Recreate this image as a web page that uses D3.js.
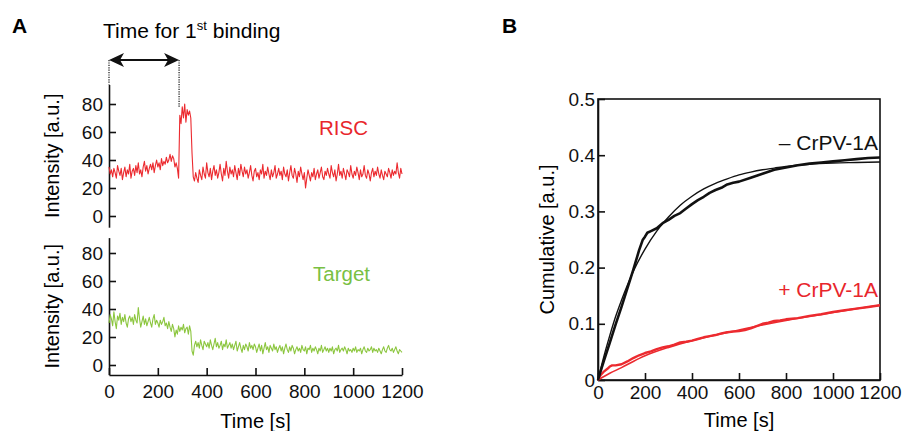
<!DOCTYPE html>
<html><head><meta charset="utf-8">
<script src="https://cdn.jsdelivr.net/npm/d3@7"></script>
<style>
body{margin:0;background:#fff;}
text{font-family:"Liberation Sans",Arial,Helvetica,sans-serif;}
</style></head>
<body><svg id="c" width="902" height="431"></svg>
<script>
// ---------- DATA ----------
const timeA = d3.range(0, 1201, 5);
const risc = [
35,30,33,28,34,31,27,36,32,29,34,26,31,35,28,33,30,37,27,32,
34,29,36,31,38,30,33,28,35,39,32,36,30,34,37,33,38,31,36,40,
35,38,33,41,36,39,37,42,38,40,44,39,43,41,35,38,34,27,72,66,
78,70,80,67,76,72,75,70,45,28,25,31,27,24,33,29,26,35,30,27,
38,31,28,34,26,32,36,29,33,27,31,37,30,25,34,29,39,32,27,35,
30,33,28,36,31,26,34,29,37,32,28,35,30,33,27,31,36,29,25,32,
34,28,31,26,33,30,37,27,32,29,35,30,26,33,28,31,36,27,30,34,
29,32,26,35,30,28,33,25,31,36,29,27,34,30,24,32,28,35,30,26,
31,20,27,33,29,25,31,28,34,26,30,33,27,31,35,28,26,32,29,34,
30,27,36,31,28,33,25,30,37,29,32,27,34,30,26,33,31,28,36,30,
27,32,29,35,31,26,33,28,30,36,29,27,33,30,25,31,34,28,32,29,
35,30,27,33,29,26,32,30,28,34,31,27,33,29,32,30,38,31,27,34,
30];
const target = [
30,36,33,28,38,31,26,35,32,37,29,34,31,36,30,27,33,35,31,34,
29,36,32,30,41,33,27,31,35,29,33,28,31,34,30,27,33,36,29,32,
30,27,32,29,31,34,28,30,26,31,27,24,29,26,20,25,22,28,24,27,
25,29,23,26,27,22,28,24,10,7,14,17,13,16,12,18,14,11,17,15,
13,16,12,18,14,11,15,19,13,16,12,14,17,11,15,13,18,12,14,16,
12,15,11,14,17,10,13,16,12,9,14,11,15,13,10,16,12,14,11,15,
13,9,12,15,10,14,8,12,16,11,13,9,14,12,10,15,11,13,9,12,
14,10,13,8,12,15,11,9,13,10,14,12,8,11,13,10,12,9,14,11,
10,13,8,12,11,14,9,12,10,13,11,8,12,10,14,9,11,13,10,12,
9,12,10,13,8,11,12,10,14,9,11,12,10,13,11,8,12,10,11,9,
12,10,13,9,11,10,12,8,11,13,10,9,12,10,11,13,9,12,10,11,
9,12,10,8,11,13,10,9,12,14,11,10,12,9,11,13,10,8,11,10,
9];
const firstBindingTime = 287;
const yTicksA = [0, 20, 40, 60, 80];
const xTicks = [0, 200, 400, 600, 800, 1000, 1200];
const yTicksB = [0, 0.1, 0.2, 0.3, 0.4, 0.5];
const yTickLabelsB = ["0", "0.1", "0.2", "0.3", "0.4", "0.5"];

const tMinusData = [0,10,25,50,75,100,125,150,175,190,200,210,225,250,275,300,325,350,375,400,425,450,475,500,525,550,575,600,650,700,750,800,850,900,950,1000,1050,1100,1150,1200];
const vMinusData = [0,0.014,0.034,0.066,0.099,0.13,0.163,0.196,0.231,0.249,0.255,0.262,0.265,0.27,0.279,0.285,0.292,0.297,0.305,0.313,0.32,0.326,0.333,0.338,0.342,0.348,0.351,0.353,0.36,0.367,0.374,0.378,0.382,0.385,0.387,0.389,0.391,0.393,0.395,0.396];
const tMinusFit = [0,25,50,75,100,150,200,250,300,350,400,450,500,550,600,650,700,750,800,900,1000,1100,1200];
const vMinusFit = [0,0.042,0.079,0.113,0.142,0.193,0.233,0.265,0.29,0.311,0.327,0.34,0.35,0.358,0.365,0.37,0.374,0.377,0.38,0.384,0.386,0.387,0.388];
const tPlusData = [0,10,25,40,50,60,75,100,125,150,175,200,225,250,275,300,325,350,375,400,425,450,475,500,525,550,575,600,625,650,675,700,725,750,775,800,850,900,950,1000,1050,1100,1150,1200];
const vPlusData = [0,0.008,0.015,0.02,0.024,0.026,0.026,0.028,0.033,0.039,0.044,0.048,0.051,0.055,0.058,0.06,0.063,0.067,0.068,0.07,0.073,0.076,0.078,0.08,0.083,0.085,0.086,0.087,0.089,0.092,0.096,0.1,0.102,0.105,0.106,0.108,0.11,0.114,0.117,0.121,0.124,0.127,0.13,0.133];
const tPlusFit = [0,50,100,150,200,300,400,500,600,700,800,900,1000,1100,1200];
const vPlusFit = [0,0.012,0.022,0.033,0.043,0.058,0.07,0.08,0.089,0.098,0.106,0.113,0.12,0.127,0.133];

// ---------- DRAW ----------
const svg = d3.select("#c");
const FT = 19;   // tick labels
const FL = 20;   // axis labels
const RED = "#ec2a2f", GREEN = "#8cc63f";

svg.append("text").attr("x", 12).attr("y", 33).attr("font-size", 21).attr("font-weight", "bold").text("A");
svg.append("text").attr("x", 502).attr("y", 33).attr("font-size", 21).attr("font-weight", "bold").text("B");

// ----- Panel A -----
const xA = d3.scaleLinear().domain([0, 1200]).range([109, 402]);
const yU = d3.scaleLinear().domain([-8, 94]).range([227.2, 84.4]);
const yL = d3.scaleLinear().domain([-7, 91]).range([374.8, 237.6]);

function styleAxis(g) {
  g.selectAll("path.domain").attr("stroke", "#111").attr("stroke-width", 1.6);
  g.selectAll(".tick line").attr("stroke", "#111").attr("stroke-width", 1.6);
  g.selectAll(".tick text").attr("font-size", FT).attr("fill", "#111")
    .style("font-family", '"Liberation Sans",Arial,Helvetica,sans-serif');
}

const gU = svg.append("g").attr("transform", "translate(109,0)")
  .call(d3.axisLeft(yU).tickValues(yTicksA).tickSize(-7).tickSizeOuter(0).tickPadding(6));
styleAxis(gU);
const gL = svg.append("g").attr("transform", "translate(109,0)")
  .call(d3.axisLeft(yL).tickValues(yTicksA).tickSize(-7).tickSizeOuter(0).tickPadding(6));
styleAxis(gL);
const gX = svg.append("g").attr("transform", "translate(0,375)")
  .call(d3.axisBottom(xA).tickValues(xTicks).tickFormat(d3.format("d")).tickSize(-7).tickSizeOuter(0).tickPadding(10));
styleAxis(gX);

const lineU = d3.line().x((d, i) => xA(timeA[i])).y(d => yU(d));
const lineL = d3.line().x((d, i) => xA(timeA[i])).y(d => yL(d));
svg.append("path").datum(risc).attr("d", lineU).attr("fill", "none").attr("stroke", RED).attr("stroke-width", 1.1).attr("stroke-linejoin", "round");
svg.append("path").datum(target).attr("d", lineL).attr("fill", "none").attr("stroke", GREEN).attr("stroke-width", 1.1).attr("stroke-linejoin", "round");

svg.append("text").attr("x", 319).attr("y", 135).attr("font-size", 20.5).attr("fill", "#e8262c").text("RISC");
svg.append("text").attr("x", 313).attr("y", 281).attr("font-size", 20.5).attr("fill", "#79c043").text("Target");

svg.append("text").attr("transform", `translate(59,${(yU(94) + yU(-8)) / 2}) rotate(-90)`)
  .attr("text-anchor", "middle").attr("font-size", FL).text("Intensity [a.u.]");
svg.append("text").attr("transform", `translate(59,${(yL(91) + yL(-7)) / 2}) rotate(-90)`)
  .attr("text-anchor", "middle").attr("font-size", FL).text("Intensity [a.u.]");
svg.append("text").attr("x", (xA(0) + xA(1200)) / 2).attr("y", 428).attr("text-anchor", "middle").attr("font-size", FL).text("Time [s]");

// Time for 1st binding annotation
const t1 = svg.append("text").attr("x", 103).attr("y", 38).attr("font-size", 21);
t1.append("tspan").text("Time for 1");
t1.append("tspan").attr("font-size", 13).attr("dy", -8).text("st");
t1.append("tspan").attr("dy", 8).text(" binding");
const ay = 60;
const xa0 = xA(0), xa1 = xA(firstBindingTime);
svg.append("line").attr("x1", xa0).attr("x2", xa0).attr("y1", ay).attr("y2", yU(94)).attr("stroke", "#111").attr("stroke-width", 1.2).attr("stroke-dasharray", "1.2,1.2");
svg.append("line").attr("x1", xa1).attr("x2", xa1).attr("y1", ay).attr("y2", yU(risc[timeA.indexOf(290)] + 6)).attr("stroke", "#111").attr("stroke-width", 1.2).attr("stroke-dasharray", "1.2,1.2");
svg.append("line").attr("x1", xa0 + 4).attr("x2", xa1 - 4).attr("y1", ay).attr("y2", ay).attr("stroke", "#111").attr("stroke-width", 1.8);
function head(x, dir) {
  const L = 15, W = 7, N = 4;
  const p = [[x, ay], [x + dir * L, ay - W], [x + dir * (L - N), ay], [x + dir * L, ay + W]];
  svg.append("path").attr("d", "M" + p.map(q => q.join(",")).join("L") + "Z").attr("fill", "#111");
}
head(xa0, 1); head(xa1, -1);

// ----- Panel B -----
const xB = d3.scaleLinear().domain([0, 1200]).range([598, 880]);
const yB = d3.scaleLinear().domain([0, 0.5]).range([380, 99]);
svg.append("rect").attr("x", xB(0)).attr("y", yB(0.5)).attr("width", xB(1200) - xB(0)).attr("height", yB(0) - yB(0.5))
  .attr("fill", "none").attr("stroke", "#111").attr("stroke-width", 1.6);
const gBy = svg.append("g").attr("transform", `translate(${xB(0)},0)`)
  .call(d3.axisLeft(yB).tickValues(yTicksB).tickFormat((d, i) => yTickLabelsB[i]).tickSize(-7).tickSizeOuter(0).tickPadding(3));
styleAxis(gBy);
const gBx = svg.append("g").attr("transform", `translate(0,${yB(0)})`)
  .call(d3.axisBottom(xB).tickValues(xTicks).tickFormat(d3.format("d")).tickSize(-7).tickSizeOuter(0).tickPadding(6));
styleAxis(gBx);

const lineB = (ts) => d3.line().x((d, i) => xB(ts[i])).y(d => yB(d));
const smoothB = (ts) => d3.line().curve(d3.curveMonotoneX).x((d, i) => xB(ts[i])).y(d => yB(d));
svg.append("path").datum(vPlusFit).attr("d", smoothB(tPlusFit)).attr("fill", "none").attr("stroke", RED).attr("stroke-width", 1.6);
svg.append("path").datum(vPlusData).attr("d", lineB(tPlusData)).attr("fill", "none").attr("stroke", RED).attr("stroke-width", 2.4).attr("stroke-linejoin", "round");
svg.append("path").datum(vMinusFit).attr("d", smoothB(tMinusFit)).attr("fill", "none").attr("stroke", "#111").attr("stroke-width", 1.4);
svg.append("path").datum(vMinusData).attr("d", lineB(tMinusData)).attr("fill", "none").attr("stroke", "#111").attr("stroke-width", 2.6).attr("stroke-linejoin", "round");

svg.append("text").attr("x", 878).attr("y", 150).attr("text-anchor", "end").attr("font-size", 21).attr("fill", "#111").text("\u2013 CrPV-1A");
svg.append("text").attr("x", 878).attr("y", 297).attr("text-anchor", "end").attr("font-size", 21).attr("fill", "#e8262c").text("+ CrPV-1A");

svg.append("text").attr("transform", `translate(554,${(yB(0) + yB(0.5)) / 2}) rotate(-90)`)
  .attr("text-anchor", "middle").attr("font-size", FL).text("Cumulative [a.u.]");
svg.append("text").attr("x", (xB(0) + xB(1200)) / 2).attr("y", 427).attr("text-anchor", "middle").attr("font-size", FL).text("Time [s]");
</script></body></html>
